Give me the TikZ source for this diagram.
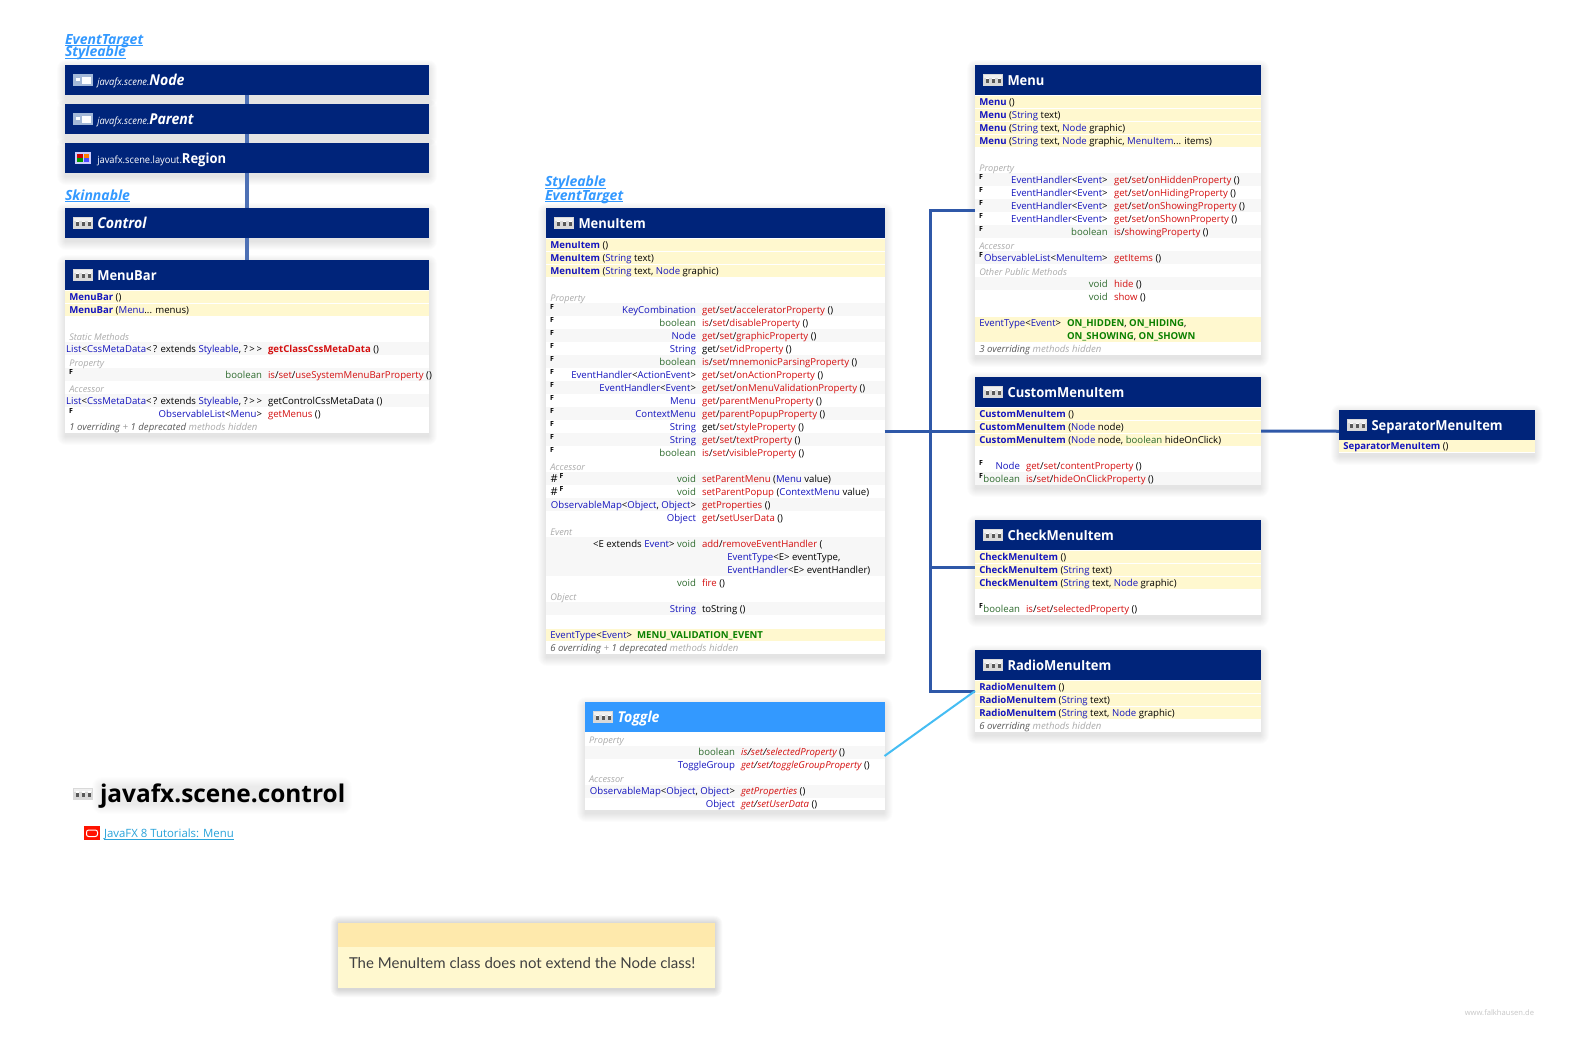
\documentclass[tikz,border=0pt]{standalone}
\usepackage{fontspec}
\setmainfont{Open Sans}
\newfontfamily\headfont[FakeStretch=0.94]{Open Sans}
\newfontfamily\notefont{Lato}
\definecolor{hdrblue}{HTML}{00247A}
\definecolor{togblue}{HTML}{3399FF}
\definecolor{ybg}{HTML}{FFF8CF}
\definecolor{nhdr}{HTML}{FEE9AC}
\definecolor{gbg}{HTML}{F7F7F7}
\definecolor{cblue}{HTML}{1414BE}
\definecolor{pgreen}{HTML}{2E6B2E}
\definecolor{mred}{HTML}{D40F0F}
\definecolor{kgreen}{HTML}{0A8000}
\definecolor{seclab}{HTML}{ABABAB}
\definecolor{linkblue}{HTML}{3399FF}
\definecolor{connblue}{HTML}{2F58A8}
\definecolor{tutblue}{HTML}{2BA3DA}
\definecolor{implblue}{HTML}{45BDF3}
\definecolor{wicon}{HTML}{A3B8D8}
\newcommand{\xC}[1]{\textcolor{cblue}{#1}}
\newcommand{\xP}[1]{\textcolor{pgreen}{#1}}
\newcommand{\xM}[1]{\textcolor{mred}{#1}}
\newcommand{\xB}[1]{\textcolor{cblue}{\bfseries #1}}
\newcommand{\xK}[1]{\textcolor{kgreen}{\bfseries #1}}
\newcommand{\xU}[1]{\underline{\smash{#1}}}
\newcommand{\xW}{<\,? extends \xC{Styleable}, ?\,>\,>}
\newcommand{\xI}[1]{{\fontsize{15}{16}\selectfont\itshape #1}}
\newcounter{tn}
\tikzset{
  tbase/.style={inner sep=0pt,outer sep=0pt,font=\fontsize{9.6}{11}\selectfont,text=black},
  tl/.style={tbase,anchor=base west},
  tr/.style={tbase,anchor=base east},
  seclabel/.style={tl,font=\fontsize{9.2}{11}\selectfont\itshape,text=seclab},
  hiddenlabel/.style={tl,font=\fontsize{9.6}{11}\selectfont\itshape,text=black!65},
  ftag/.style={inner sep=0pt,outer sep=0pt,anchor=base west,font=\fontsize{7}{7}\selectfont\bfseries,text=black},
  hash/.style={inner sep=0pt,outer sep=0pt,anchor=base west,font=\fontsize{11}{11}\selectfont,text=black},
  headtext/.style={inner sep=0pt,outer sep=0pt,anchor=base west,text=white,font=\headfont\fontsize{13.8}{16}\selectfont\bfseries},
  boxnode/.style={rectangle,fill=white,draw=none,inner sep=0pt,outer sep=0pt,anchor=north west},
  hdrnode/.style={rectangle,fill=hdrblue,draw=none,inner sep=0pt,outer sep=0pt,anchor=north west,minimum height=30pt},
  linktext/.style={inner sep=0pt,outer sep=0pt,anchor=base west,text=linkblue,font=\fontsize{14}{14}\selectfont\bfseries\itshape},
  conn/.style={draw=connblue,line width=3pt},
  iconn/.style={draw=connblue!85,line width=3.4pt},
  impl/.style={draw=implblue,line width=2pt},
}
\newcommand{\Shad}[4]{%
  \foreach \k in {1,2,...,9}{%
    \fill[black,opacity=.011,rounded corners=\k pt] (#1-\k+1,#2-\k+4) rectangle (#3+\k-1,#4+\k+3);}}
\newcommand{\ClassBox}[5]{%
  \Shad{#2}{#3}{#4}{#5}%
  \pgfmathsetmacro{\bw}{#4-#2}\pgfmathsetmacro{\bh}{#5-#3}%
  \node[boxnode,minimum width=\bw pt,minimum height=\bh pt] (#1) at (#2,#3) {};
  \node[hdrnode,minimum width=\bw pt] (#1h) at (#2,#3) {};}
\newcommand{\Yr}[3]{\fill[ybg] (#1,#3-6.1) rectangle (#2,#3+6.1);}
\newcommand{\Gr}[3]{\fill[gbg] (#1,#3-6.5) rectangle (#2,#3+6.5);}
\newcommand{\TL}[3]{\stepcounter{tn}\node[tl] (t\thetn) at (#1,#2+3.4) {#3};}
\newcommand{\TR}[3]{\stepcounter{tn}\node[tr] (t\thetn) at (#1,#2+3.4) {#3};}
\newcommand{\SL}[3]{\stepcounter{tn}\node[seclabel] (t\thetn) at (#1,#2+4.4) {#3};}
\newcommand{\HL}[3]{\stepcounter{tn}\node[hiddenlabel] (t\thetn) at (#1,#2+3.4) {#3};}
\newcommand{\FT}[2]{\stepcounter{tn}\node[ftag] (t\thetn) at (#1,#2) {F};}
\newcommand{\HT}[2]{\stepcounter{tn}\node[hash] (t\thetn) at (#1,#2+3.6) {\#};\FT{#1+9}{#2}}
\newcommand{\CIcon}[2]{%
  \fill[black!15] (#1,#2-6) rectangle (#1+20,#2+6);
  \fill[black!6] (#1+1,#2-5) rectangle (#1+19,#2-2);
  \foreach \q in {2.5,8.5,14.5}{%
    \fill[black!65] (#1+\q,#2-1) rectangle (#1+\q+3.2,#2+3.2);
    \fill[white] (#1+\q,#2-2.2) rectangle (#1+\q+3.2,#2-0.8);}}
\newcommand{\WIcon}[2]{%
  \fill[wicon] (#1,#2-6) rectangle (#1+20,#2+6);
  \fill[white] (#1+2.5,#2-2) rectangle (#1+6.5,#2+1);
  \fill[white] (#1+9,#2-3) rectangle (#1+18,#2+4);}
\newcommand{\RIcon}[2]{%
  \fill[white!80!blue] (#1+2,#2-6) rectangle (#1+18,#2+6);
  \fill[red!80!black] (#1+4,#2-4) rectangle (#1+9.5,#2-.4);
  \fill[orange] (#1+10.5,#2-4) rectangle (#1+16,#2-.4);
  \fill[green!60!black] (#1+4,#2+.4) rectangle (#1+9.5,#2+4);
  \fill[blue!70] (#1+10.5,#2+.4) rectangle (#1+16,#2+4);}
\newcommand{\HeadT}[3]{\stepcounter{tn}\node[headtext] (t\thetn) at (#1,#2+5) {#3};}
\newcommand{\PkgI}[1]{{\fontsize{9.9}{11}\selectfont\mdseries\itshape #1}}
\newcommand{\PkgU}[1]{{\fontsize{9.9}{11}\selectfont\mdseries #1}}
\begin{document}
\begin{tikzpicture}[x=1pt,y=-1pt]
\useasboundingbox (0,0) rectangle (1590,1058);
\fill[white] (0,0) rectangle (1590,1058);

% ---------- left column
\node[linktext] (lnk1) at (65,44) {\xU{EventTarget}};
\node[linktext] (lnk2) at (65,56.7) {\xU{Styleable}};
\node[linktext] (lnk3) at (65,200) {\xU{Skinnable}};
\ClassBox{nodecls}{65}{65}{429}{95}
\ClassBox{parentcls}{65}{104}{429}{134}
\ClassBox{regioncls}{65}{143}{429}{173}
\ClassBox{controlcls}{65}{208}{429}{238}
\ClassBox{menubar}{65}{260}{429}{433}
\WIcon{73}{80}\WIcon{73}{119}\RIcon{73}{158}\CIcon{73}{223}\CIcon{73}{275}
\HeadT{97.3}{80}{\PkgI{javafx.scene.}\xI{Node}}
\HeadT{97.3}{119}{\PkgI{javafx.scene.}\xI{Parent}}
\HeadT{97.3}{158}{\PkgU{javafx.scene.layout.}Region}
\HeadT{97.3}{223}{\xI{Control}}
\HeadT{97.3}{275}{MenuBar}
\Yr{65}{429}{296.7}\Yr{65}{429}{309.7}
\Gr{65}{429}{348.7}\Gr{65}{429}{374.7}\Gr{65}{429}{400.7}
\TL{69.3}{296.7}{\xB{MenuBar} ()}
\TL{69.3}{309.7}{\xB{MenuBar} (\xC{Menu}... menus)}
\SL{69.3}{335.7}{Static Methods}
\TR{262}{348.7}{\xC{List}<\xC{CssMetaData}\xW}
\TL{268}{348.7}{\xM{\bfseries getClassCssMetaData} ()}
\SL{69.3}{361.7}{Property}
\FT{69}{374.7}
\TR{262}{374.7}{\xP{boolean}}
\TL{268}{374.7}{\xM{is}/\xM{set}/\xM{useSystemMenuBarProperty} ()}
\SL{69.3}{387.7}{Accessor}
\TR{262}{400.7}{\xC{List}<\xC{CssMetaData}\xW}
\TL{268}{400.7}{getControlCssMetaData ()}
\FT{69}{413.7}
\TR{262}{413.7}{\xC{ObservableList}<\xC{Menu}>}
\TL{268}{413.7}{\xM{getMenus} ()}
\HL{69.3}{426.7}{1 overriding {\color{black!40}+} 1 deprecated {\color{seclab}methods hidden}}

% ---------- MenuItem
\node[linktext] (lnk4) at (545,186.7) {\xU{Styleable}};
\node[linktext] (lnk5) at (545,200) {\xU{EventTarget}};
\ClassBox{menuitem}{546}{208}{884.5}{654}
\CIcon{554}{223}
\HeadT{578.5}{223}{MenuItem}
\Yr{546}{884.5}{244.7}\Yr{546}{884.5}{257.7}\Yr{546}{884.5}{270.7}
\foreach \yy in {309.7,335.7,361.7,387.7,413.7,439.7,478.7,504.7,608.7}{\Gr{546}{884.5}{\yy}}
\fill[gbg] (546,537.2) rectangle (884.5,576.2);
\Yr{546}{884.5}{634.7}
\TL{550.3}{244.7}{\xB{MenuItem} ()}
\TL{550.3}{257.7}{\xB{MenuItem} (\xC{String} text)}
\TL{550.3}{270.7}{\xB{MenuItem} (\xC{String} text, \xC{Node} graphic)}
\SL{550.3}{296.7}{Property}
\FT{550}{309.7}\TR{696}{309.7}{\xC{KeyCombination}}\TL{702}{309.7}{\xM{get}/\xM{set}/\xM{acceleratorProperty} ()}
\FT{550}{322.7}\TR{696}{322.7}{\xP{boolean}}\TL{702}{322.7}{\xM{is}/\xM{set}/\xM{disableProperty} ()}
\FT{550}{335.7}\TR{696}{335.7}{\xC{Node}}\TL{702}{335.7}{\xM{get}/\xM{set}/\xM{graphicProperty} ()}
\FT{550}{348.7}\TR{696}{348.7}{\xC{String}}\TL{702}{348.7}{get/\xM{set}/\xM{idProperty} ()}
\FT{550}{361.7}\TR{696}{361.7}{\xP{boolean}}\TL{702}{361.7}{\xM{is}/\xM{set}/\xM{mnemonicParsingProperty} ()}
\FT{550}{374.7}\TR{696}{374.7}{\xC{EventHandler}<\xC{ActionEvent}>}\TL{702}{374.7}{\xM{get}/\xM{set}/\xM{onActionProperty} ()}
\FT{550}{387.7}\TR{696}{387.7}{\xC{EventHandler}<\xC{Event}>}\TL{702}{387.7}{\xM{get}/\xM{set}/\xM{onMenuValidationProperty} ()}
\FT{550}{400.7}\TR{696}{400.7}{\xC{Menu}}\TL{702}{400.7}{\xM{get}/\xM{parentMenuProperty} ()}
\FT{550}{413.7}\TR{696}{413.7}{\xC{ContextMenu}}\TL{702}{413.7}{\xM{get}/\xM{parentPopupProperty} ()}
\FT{550}{426.7}\TR{696}{426.7}{\xC{String}}\TL{702}{426.7}{get/\xM{set}/\xM{styleProperty} ()}
\FT{550}{439.7}\TR{696}{439.7}{\xC{String}}\TL{702}{439.7}{\xM{get}/\xM{set}/\xM{textProperty} ()}
\FT{550}{452.7}\TR{696}{452.7}{\xP{boolean}}\TL{702}{452.7}{\xM{is}/\xM{set}/\xM{visibleProperty} ()}
\SL{550.3}{465.7}{Accessor}
\HT{550.5}{478.7}\TR{696}{478.7}{\xP{void}}\TL{702}{478.7}{\xM{setParentMenu} (\xC{Menu} value)}
\HT{550.5}{491.7}\TR{696}{491.7}{\xP{void}}\TL{702}{491.7}{\xM{setParentPopup} (\xC{ContextMenu} value)}
\TR{696}{504.7}{\xC{ObservableMap}<\xC{Object}, \xC{Object}>}\TL{702}{504.7}{\xM{getProperties} ()}
\TR{696}{517.7}{\xC{Object}}\TL{702}{517.7}{\xM{get}/\xM{setUserData} ()}
\SL{550.3}{530.7}{Event}
\TR{696}{543.7}{<E extends \xC{Event}> \xP{void}}\TL{702}{543.7}{\xM{add}/\xM{removeEventHandler} (}
\TL{727.3}{556.7}{\xC{EventType}<E> eventType,}
\TL{727.3}{569.7}{\xC{EventHandler}<E> eventHandler)}
\TR{696}{582.7}{\xP{void}}\TL{702}{582.7}{\xM{fire} ()}
\SL{550.3}{595.7}{Object}
\TR{696}{608.7}{\xC{String}}\TL{702}{608.7}{toString ()}
\TL{550.3}{634.7}{\xC{EventType}<\xC{Event}>\ \ \xK{MENU\_VALIDATION\_EVENT}}
\HL{550.3}{647.7}{6 overriding {\color{black!40}+} 1 deprecated {\color{seclab}methods hidden}}

% ---------- Toggle
\ClassBox{toggle}{585}{702}{884.5}{810}
\node[hdrnode,fill=togblue,minimum width=299.5pt] (toggleh2) at (585,702) {};
\CIcon{593}{717}
\HeadT{617.5}{717}{\xI{Toggle}}
\Gr{585}{884.5}{752.3}\Gr{585}{884.5}{791.3}
\SL{589}{739.3}{Property}
\TR{735}{752.3}{\xP{boolean}}\TL{741}{752.3}{\itshape\xM{is}/\xM{set}/\xM{selectedProperty} \upshape()}
\TR{735}{765.3}{\xC{ToggleGroup}}\TL{741}{765.3}{\itshape\xM{get}/\xM{set}/\xM{toggleGroupProperty} \upshape()}
\SL{589}{778.3}{Accessor}
\TR{735}{791.3}{\xC{ObservableMap}<\xC{Object}, \xC{Object}>}\TL{741}{791.3}{\itshape\xM{getProperties} \upshape()}
\TR{735}{804.3}{\xC{Object}}\TL{741}{804.3}{\itshape\xM{get}/\xM{set}\xM{UserData} \upshape()}

% ---------- Menu
\ClassBox{menu}{975}{65}{1261}{355}
\CIcon{983}{80}
\HeadT{1007.5}{80}{Menu}
\foreach \yy in {101.7,114.7,127.7,140.7}{\Yr{975}{1261}{\yy}}
\foreach \yy in {179.7,205.7,231.7,257.7,283.7}{\Gr{975}{1261}{\yy}}
\fill[ybg] (975,316.7) rectangle (1261,341.8);
\TL{979.3}{101.7}{\xB{Menu} ()}
\TL{979.3}{114.7}{\xB{Menu} (\xC{String} text)}
\TL{979.3}{127.7}{\xB{Menu} (\xC{String} text, \xC{Node} graphic)}
\TL{979.3}{140.7}{\xB{Menu} (\xC{String} text, \xC{Node} graphic, \xC{MenuItem}... items)}
\SL{979.3}{166.7}{Property}
\FT{979}{179.7}\TR{1107.7}{179.7}{\xC{EventHandler}<\xC{Event}>}\TL{1114}{179.7}{\xM{get}/\xM{set}/\xM{onHiddenProperty} ()}
\FT{979}{192.7}\TR{1107.7}{192.7}{\xC{EventHandler}<\xC{Event}>}\TL{1114}{192.7}{\xM{get}/\xM{set}/\xM{onHidingProperty} ()}
\FT{979}{205.7}\TR{1107.7}{205.7}{\xC{EventHandler}<\xC{Event}>}\TL{1114}{205.7}{\xM{get}/\xM{set}/\xM{onShowingProperty} ()}
\FT{979}{218.7}\TR{1107.7}{218.7}{\xC{EventHandler}<\xC{Event}>}\TL{1114}{218.7}{\xM{get}/\xM{set}/\xM{onShownProperty} ()}
\FT{979}{231.7}\TR{1107.7}{231.7}{\xP{boolean}}\TL{1114}{231.7}{\xM{is}/\xM{showingProperty} ()}
\SL{979.3}{244.7}{Accessor}
\FT{979}{257.7}\TR{1107.7}{257.7}{\xC{ObservableList}<\xC{MenuItem}>}\TL{1114}{257.7}{\xM{getItems} ()}
\SL{979.3}{270.7}{Other Public Methods}
\TR{1107.7}{283.7}{\xP{void}}\TL{1114}{283.7}{\xM{hide} ()}
\TR{1107.7}{296.7}{\xP{void}}\TL{1114}{296.7}{\xM{show} ()}
\TL{979.3}{322.7}{\xC{EventType}<\xC{Event}>}
\TL{1067}{322.7}{\xK{ON\_HIDDEN}, \xK{ON\_HIDING},}
\TL{1067}{335.7}{\xK{ON\_SHOWING}, \xK{ON\_SHOWN}}
\HL{979.3}{348.7}{3 overriding {\color{seclab}methods hidden}}

% ---------- CustomMenuItem
\ClassBox{custom}{975}{377}{1261}{485}
\CIcon{983}{392}
\HeadT{1007.5}{392}{CustomMenuItem}
\foreach \yy in {413.7,426.7,439.7}{\Yr{975}{1261}{\yy}}
\Gr{975}{1261}{478.7}
\TL{979.3}{413.7}{\xB{CustomMenuItem} ()}
\TL{979.3}{426.7}{\xB{CustomMenuItem} (\xC{Node} node)}
\TL{979.3}{439.7}{\xB{CustomMenuItem} (\xC{Node} node, \xP{boolean} hideOnClick)}
\FT{979}{465.7}\TR{1020}{465.7}{\xC{Node}}\TL{1026}{465.7}{\xM{get}/\xM{set}/\xM{contentProperty} ()}
\FT{979}{478.7}\TR{1020}{478.7}{\xP{boolean}}\TL{1026}{478.7}{\xM{is}/\xM{set}/\xM{hideOnClickProperty} ()}

% ---------- SeparatorMenuItem
\ClassBox{separator}{1339}{409.5}{1534.5}{453}
\CIcon{1347}{425}
\HeadT{1371.5}{425}{SeparatorMenuItem}
\Yr{1339}{1534.5}{446}
\TL{1343.3}{445.7}{\xB{SeparatorMenuItem} ()}

% ---------- CheckMenuItem
\ClassBox{check}{975}{520}{1261}{615}
\CIcon{983}{535}
\HeadT{1007.5}{535}{CheckMenuItem}
\foreach \yy in {556.7,569.7,582.7}{\Yr{975}{1261}{\yy}}
\TL{979.3}{556.7}{\xB{CheckMenuItem} ()}
\TL{979.3}{569.7}{\xB{CheckMenuItem} (\xC{String} text)}
\TL{979.3}{582.7}{\xB{CheckMenuItem} (\xC{String} text, \xC{Node} graphic)}
\FT{979}{608.7}\TR{1020}{608.7}{\xP{boolean}}\TL{1026}{608.7}{\xM{is}/\xM{set}/\xM{selectedProperty} ()}

% ---------- RadioMenuItem
\ClassBox{radio}{975}{650}{1261}{732}
\CIcon{983}{665}
\HeadT{1007.5}{665}{RadioMenuItem}
\foreach \yy in {686.7,699.7,712.7}{\Yr{975}{1261}{\yy}}
\TL{979.3}{686.7}{\xB{RadioMenuItem} ()}
\TL{979.3}{699.7}{\xB{RadioMenuItem} (\xC{String} text)}
\TL{979.3}{712.7}{\xB{RadioMenuItem} (\xC{String} text, \xC{Node} graphic)}
\HL{979.3}{725.7}{6 overriding {\color{seclab}methods hidden}}

% ---------- connectors
\coordinate (trunk) at (930,431);
\draw[iconn] (nodecls.south) -- (parentcls.north);
\draw[iconn] (parentcls.south) -- (regioncls.north);
\draw[iconn] (regioncls.south) -- (controlcls.north);
\draw[iconn] (controlcls.south) -- (menubar.north);
\draw[conn] (menuitem.east) -- (custom.west);
\draw[conn] (custom.east) -- (separator.west);
\draw[conn] (trunk) |- (menu.west);
\draw[conn] (trunk) |- (check.west);
\draw[conn] (trunk) |- (radio.west);
\draw[impl] (toggle.east) -- (radio.west);

% ---------- title
\foreach \k in {1,2,...,10}{\fill[black,opacity=.007,rounded corners=\k pt] (102-\k,787-\k) rectangle (342+\k,804+\k);}
\CIcon{73}{793.5}
\node[inner sep=0pt,outer sep=0pt,anchor=base west,font=\fontsize{24.4}{28}\selectfont\bfseries] (title) at (100,802.7) {javafx.scene.control};
\fill[red!85!orange] (84,826) rectangle (100,840);
\draw[white,line width=1pt,rounded corners=2.2pt] (86.5,830) rectangle (97.5,836.5);
\node[inner sep=0pt,outer sep=0pt,anchor=base west,font=\fontsize{11.4}{12}\selectfont,text=tutblue] (tutlink) at (104,837.3) {\xU{JavaFX 8 Tutorials: Menu}};

% ---------- note
\foreach \k in {1,2,...,8}{\fill[black,opacity=.02,rounded corners=\k pt] (338.7-\k,923.7-\k) rectangle (714.3+\k,988+\k+1);}
\node[rectangle,fill=ybg,inner sep=0pt,outer sep=0pt,anchor=north west,minimum width=377pt,minimum height=65.3pt] (note) at (337.7,922.7) {};
\node[rectangle,fill=nhdr,inner sep=0pt,outer sep=0pt,anchor=north west,minimum width=377pt,minimum height=24pt] (noteh) at (337.7,922.7) {};
\node[inner sep=0pt,outer sep=0pt,anchor=base west,font=\notefont\fontsize{15}{17}\selectfont,text=black!75] (notetext) at (349,968) {The MenuItem class does not extend the Node class!};

% ---------- footer
\node[inner sep=0pt,outer sep=0pt,anchor=base east,font=\fontsize{7.6}{9}\selectfont,text=black!22] (foot) at (1534,1015.5) {www.falkhausen.de};
\end{tikzpicture}
\end{document}
